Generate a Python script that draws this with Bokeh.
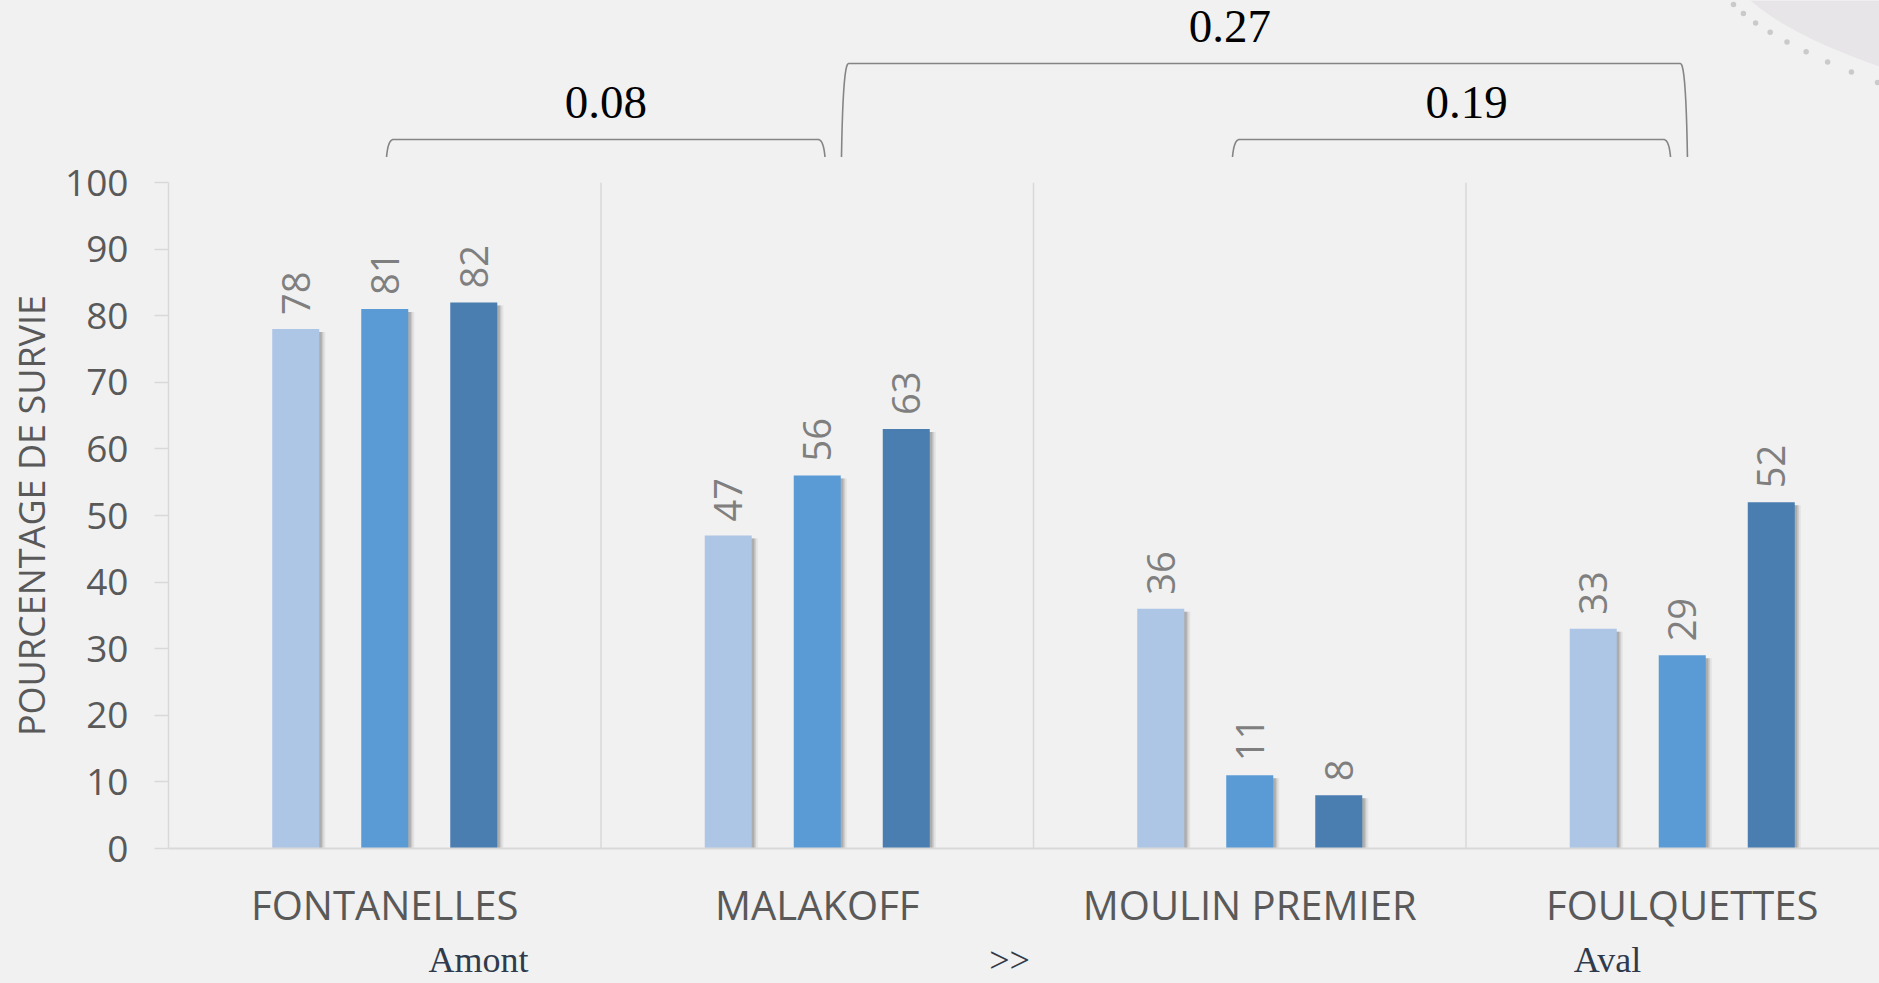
import numpy as np
from bokeh.plotting import figure
from bokeh.layouts import column
from bokeh.models import Range1d, FixedTicker, ColumnDataSource, LinearAxis
from bokeh.core.properties import value
from bokeh.embed import file_html
from bokeh.resources import INLINE

# --- data -------------------------------------------------------------
sites = ["FONTANELLES", "MALAKOFF", "MOULIN PREMIER", "FOULQUETTES"]
survie_1 = [78, 47, 36, 33]
survie_2 = [81, 56, 11, 29]
survie_3 = [82, 63, 8, 52]
y_ticks = [0, 10, 20, 30, 40, 50, 60, 70, 80, 90, 100]

# pairwise comparisons between sites (index of first site, index of second, p-value)
comp_from = [0, 1, 2]
comp_to = [1, 3, 3]
p_values = ["0.08", "0.27", "0.19"]

regions = ["Amont", ">>", "Aval"]

# --- layout / style ---------------------------------------------------
W, H = 1879, 983
LEFT_PX = 168          # width reserved for the y axis
TOP_H = 157            # height of the strip holding the comparison brackets
PAD_TOP = 25           # gap between that strip and the value 100
FRAME_H = 666          # height of the bar area (0..100)
CAT_PX = 432.5         # pixels per category
UNIT_PX = FRAME_H / 100.0
BG = "#f1f1f1"
AXIS_GREY = "#d9d9d9"
TEXT_GREY = "#595959"
COLORS = ["#aec6e6", "#5b9bd5", "#4a7db0"]
BAR_W = 0.1087
BAR_STEP = 0.2058

x_end = (W - LEFT_PX) / CAT_PX
xr = Range1d(0, x_end)


def px_x(n):
    return n / CAT_PX


def px_y(n):
    return n / UNIT_PX


# ---------------------------------------------------------------------
# upper strip: significance brackets
top_lo = 100 + px_y(PAD_TOP)
top_hi = 100 + px_y(PAD_TOP + TOP_H)
top = figure(width=W, height=TOP_H, x_range=xr, y_range=Range1d(top_lo, top_hi),
             output_backend="svg", toolbar_location=None,
             min_border_left=LEFT_PX, min_border_right=0,
             min_border_top=0, min_border_bottom=0,
             background_fill_color=BG, border_fill_color=BG,
             outline_line_color=None)
top.axis.visible = False
top.xgrid.visible = False
top.ygrid.visible = False


def sy(pix):
    """canvas row (from page top) -> value in the upper strip"""
    return top_hi - px_y(pix)


# decorative corner shape (top right)
t = np.linspace(0, 1, 40)
cx = (1 - t) ** 2 * 1750 + 2 * (1 - t) * t * 1790 + t ** 2 * 1879
cy = (1 - t) ** 2 * 0 + 2 * (1 - t) * t * 35 + t ** 2 * 66
patch_x = [px_x(v - LEFT_PX) for v in cx] + [px_x(W - LEFT_PX), px_x(1750 - LEFT_PX)]
patch_y = [sy(v) for v in cy] + [top_hi, top_hi]
top.patch(patch_x, patch_y, fill_color="#e7e5e7", line_color=None)
td = np.linspace(0, 1, 9)
dx = (1 - td) ** 2 * 1733 + 2 * (1 - td) * td * 1768 + td ** 2 * 1877
dy = (1 - td) ** 2 * 4 + 2 * (1 - td) * td * 40 + td ** 2 * 82
top.scatter([px_x(v - LEFT_PX) for v in dx], [sy(v) for v in dy],
            size=5.5, fill_color="#cbc9cb", line_color=None)

end_shift = [(0.004, 0.018), (0.056, 0.012), (-0.040, -0.027)]
top_level = [sy(139), sy(63), sy(139)]
label_dx = [0.0, -0.08, 0.035]
foot = top_lo
br_xs, br_ys = [], []
lab_x, lab_y = [], []
tb = np.linspace(0, 1, 12)
for a, b, (sa, sb), lvl, ldx in zip(comp_from, comp_to, end_shift, top_level, label_dx):
    xa = a + 0.5 + sa
    xb = b + 0.5 + sb
    # each end curls from its foot into the horizontal bar
    lx = (1 - tb) ** 2 * xa + 2 * (1 - tb) * tb * (xa + px_x(1.5)) + tb ** 2 * (xa + px_x(7))
    ly = (1 - tb) ** 2 * foot + 2 * (1 - tb) * tb * lvl + tb ** 2 * lvl
    rx = (1 - tb) ** 2 * (xb - px_x(7)) + 2 * (1 - tb) * tb * (xb - px_x(1.5)) + tb ** 2 * xb
    ry = (1 - tb) ** 2 * lvl + 2 * (1 - tb) * tb * lvl + tb ** 2 * foot
    br_xs.append(list(lx) + list(rx))
    br_ys.append(list(ly) + list(ry))
    lab_x.append((xa + xb) / 2 + ldx)
    lab_y.append(lvl + px_y(37))
top.multi_line(br_xs, br_ys, line_color="#858585", line_width=1.6)
top.text(x=lab_x, y=lab_y, text=p_values, text_align="center",
         text_baseline="middle", text_font=value("Liberation Serif"),
         text_font_size="47px", text_color="#000000")

# ---------------------------------------------------------------------
# bar chart
p = figure(width=W, height=H - TOP_H, x_range=xr, y_range=Range1d(0, 100),
           output_backend="svg", toolbar_location=None,
           min_border_left=LEFT_PX, min_border_right=0,
           min_border_top=PAD_TOP,
           min_border_bottom=H - TOP_H - PAD_TOP - FRAME_H,
           background_fill_color=BG, border_fill_color=BG,
           outline_line_color=None)
p.xgrid.visible = False
p.ygrid.visible = False

# category separators
n = len(sites)
bounds_x = list(range(1, n))
p.segment(x0=bounds_x, y0=[0] * len(bounds_x), x1=bounds_x,
          y1=[max(y_ticks)] * len(bounds_x), line_color=AXIS_GREY, line_width=1.5)

# bars with a soft drop shadow
series = [survie_1, survie_2, survie_3]
offsets = [-BAR_STEP, 0.0, BAR_STEP]
for vals, off, col in zip(series, offsets, COLORS):
    xs = [i + 0.5 + off for i in range(n)]
    for sh, alpha in ((6, 0.12), (4, 0.25), (2.5, 0.35)):
        p.vbar(x=[x + px_x(sh) for x in xs], top=[v - px_y(3) for v in vals],
               bottom=0, width=BAR_W, fill_color="#7a7a7a", fill_alpha=alpha,
               line_color=None)
    src = ColumnDataSource(dict(x=xs, top=vals, lab=[str(v) for v in vals]))
    p.vbar(x="x", top="top", bottom=0, width=BAR_W, source=src,
           fill_color=col, line_color=None)
    p.text(x="x", y="top", text="lab", source=src, angle=np.pi / 2,
           text_align="left", text_baseline="middle", y_offset=-14,
           text_font=value("Open Sans"), text_font_size="38px",
           text_color="#7f7f7f")

# x axis: site names
p.xaxis.ticker = FixedTicker(ticks=[i + 0.5 for i in range(n)])
p.xaxis.major_label_overrides = {i + 0.5: s for i, s in enumerate(sites)}
p.xaxis.major_tick_out = 0
p.xaxis.major_tick_in = 0
p.xaxis.minor_tick_line_color = None
p.xaxis.axis_line_color = AXIS_GREY
p.xaxis.axis_line_width = 2
p.xaxis.major_label_standoff = 28
p.xaxis.major_label_text_font = "Open Sans"
p.xaxis.major_label_text_font_size = "40px"
p.xaxis.major_label_text_color = TEXT_GREY

# second row under the axis: upstream -> downstream
region_x = [px_x(478 - LEFT_PX), px_x(1009 - LEFT_PX), px_x(1607 - LEFT_PX)]
region_axis = LinearAxis(ticker=FixedTicker(ticks=region_x),
                         major_label_overrides={x: r for x, r in zip(region_x, regions)},
                         axis_line_color=None, major_tick_line_color=None,
                         minor_tick_line_color=None, major_tick_out=0, major_tick_in=0,
                         major_label_standoff=5,
                         major_label_text_font="Liberation Serif",
                         major_label_text_font_size="36px",
                         major_label_text_color="#2f3b4c")
p.add_layout(region_axis, "below")

# y axis
p.yaxis.ticker = FixedTicker(ticks=y_ticks)
p.yaxis.major_tick_out = 14
p.yaxis.major_tick_in = 0
p.yaxis.minor_tick_line_color = None
p.yaxis.major_tick_line_color = AXIS_GREY
p.yaxis.major_tick_line_width = 1.5
p.yaxis.axis_line_color = AXIS_GREY
p.yaxis.axis_line_width = 1.5
p.yaxis.major_label_standoff = 26
p.yaxis.major_label_text_font = "Open Sans"
p.yaxis.major_label_text_font_size = "37px"
p.yaxis.major_label_text_color = TEXT_GREY
p.yaxis.axis_label = "POURCENTAGE DE SURVIE"
p.yaxis.axis_label_text_font = "Open Sans"
p.yaxis.axis_label_text_font_size = "36px"
p.yaxis.axis_label_text_font_style = "normal"
p.yaxis.axis_label_text_color = TEXT_GREY
p.yaxis.axis_label_standoff = 6

layout = column(top, p, spacing=0, styles={"background-color": BG})

with open("out.html", "w") as f:
    f.write(file_html(layout, INLINE))
